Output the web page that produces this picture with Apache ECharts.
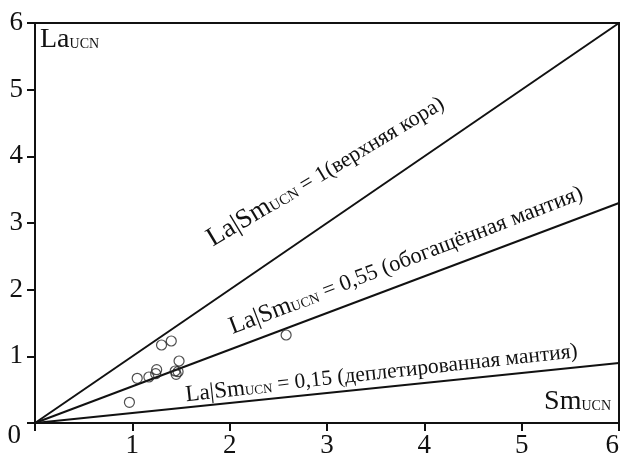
<!DOCTYPE html>
<html>
<head>
<meta charset="utf-8">
<script src="https://cdn.jsdelivr.net/npm/echarts@6/dist/echarts.min.js"></script>
<style>
  html, body { margin: 0; padding: 0; background: #fff; }
  #chart { width: 626px; height: 459px; }
</style>
</head>
<body>
<div id="chart"></div>
<script>
// Sm(UCN) and La(UCN) of the samples
const smValues = [1.30, 1.40, 1.48, 1.25, 1.24, 1.17, 1.05, 1.44, 1.47, 1.45, 0.97, 2.58];
const laValues = [1.17, 1.23, 0.93, 0.80, 0.74, 0.69, 0.67, 0.78, 0.77, 0.73, 0.31, 1.32];

// Reference La/Sm ratio lines and their captions
const ratios = [1, 0.55, 0.15];
const ratioCaptions = ['1(верхняя кора)', '0,55 (обогащённая мантия)', '0,15 (деплетированная мантия)'];
// caption anchor (data units), rotation (deg) and font sizes
const captionAnchors = [[1.86, 2.56], [2.05, 1.25], [1.56, 0.245]];
const captionAngles = [31, 21, 6.3];
const captionBig = [27, 25, 23];
const captionMid = [22, 22.5, 21.5];
const captionSmall = [15, 14, 13];

const axisTicks = [0, 1, 2, 3, 4, 5, 6];
const xMax = 6, yMax = 6;

const SERIF = "'Liberation Serif', 'Times New Roman', serif";
const INK = '#111';

const chart = echarts.init(document.getElementById('chart'), null, { renderer: 'canvas' });

const lineSeries = ratios.map(r => ({
  type: 'line',
  data: [[0, 0], [xMax, xMax * r]],
  showSymbol: false,
  silent: true,
  lineStyle: { color: INK, width: 2 },
  z: 2
}));

const captionSeries = {
  type: 'custom',
  coordinateSystem: 'cartesian2d',
  silent: true,
  z: 4,
  data: captionAnchors.map(a => a.slice()),
  renderItem: function (params, api) {
    const i = params.dataIndex;
    const p = api.coord([api.value(0), api.value(1)]);
    return {
      type: 'text',
      x: p[0],
      y: p[1],
      rotation: captionAngles[i] * Math.PI / 180,
      style: {
        text: '{b|La|Sm}{s|UCN}{m| = ' + ratioCaptions[i] + '}',
        align: 'left',
        verticalAlign: 'bottom',
        fill: INK,
        rich: {
          b: { fontFamily: SERIF, fontSize: captionBig[i], fill: INK, verticalAlign: 'bottom' },
          s: { fontFamily: SERIF, fontSize: captionSmall[i], fill: INK, verticalAlign: 'bottom', padding: [0, 0, 2, 0] },
          m: { fontFamily: SERIF, fontSize: captionMid[i], fill: INK, verticalAlign: 'bottom', padding: [0, 0, 1, 0] }
        }
      }
    };
  }
};

const option = {
  animation: false,
  backgroundColor: '#fff',
  grid: {
    left: 35, right: 7, top: 23, bottom: 35,
    show: true, borderColor: INK, borderWidth: 2, backgroundColor: '#fff'
  },
  xAxis: {
    type: 'value',
    min: 0, max: xMax, interval: 1,
    axisLine: { show: true, lineStyle: { color: INK, width: 2 } },
    axisTick: { show: true, length: 8, lineStyle: { color: INK, width: 2 } },
    splitLine: { show: false },
    axisLabel: {
      color: INK, fontFamily: SERIF, fontSize: 27, margin: 9,
      alignMaxLabel: 'right',
      formatter: v => (v === 0 ? '' : String(axisTicks[v]))
    }
  },
  yAxis: {
    type: 'value',
    min: 0, max: yMax, interval: 1,
    axisLine: { show: true, lineStyle: { color: INK, width: 2 } },
    axisTick: { show: true, length: 8, lineStyle: { color: INK, width: 2 } },
    splitLine: { show: false },
    axisLabel: {
      color: INK, fontFamily: SERIF, fontSize: 27, margin: 12,
      formatter: v => (v === 0 ? '{o|0}' : String(axisTicks[v])),
      rich: { o: { fontFamily: SERIF, fontSize: 27, color: INK, padding: [26, 2, 0, 0] } }
    }
  },
  graphic: [
    {
      type: 'text', left: 40, top: 26, silent: true,
      style: {
        text: '{b|La}{s|UCN}', fill: INK,
        rich: {
          b: { fontFamily: SERIF, fontSize: 28, fill: INK, verticalAlign: 'bottom' },
          s: { fontFamily: SERIF, fontSize: 14, fill: INK, verticalAlign: 'bottom', padding: [0, 0, 3, 0] }
        }
      }
    },
    {
      type: 'text', right: 15, top: 388, silent: true,
      style: {
        text: '{b|Sm}{s|UCN}', fill: INK,
        rich: {
          b: { fontFamily: SERIF, fontSize: 28, fill: INK, verticalAlign: 'bottom' },
          s: { fontFamily: SERIF, fontSize: 14, fill: INK, verticalAlign: 'bottom', padding: [0, 0, 3, 0] }
        }
      }
    }
  ],
  series: lineSeries.concat([
    {
      type: 'scatter',
      data: smValues.map((x, i) => [x, laValues[i]]),
      symbol: 'circle',
      symbolSize: 10,
      itemStyle: { color: 'rgba(0,0,0,0)', borderColor: '#222', borderWidth: 1.2 },
      z: 5
    },
    captionSeries
  ])
};

chart.setOption(option);
</script>
</body>
</html>
